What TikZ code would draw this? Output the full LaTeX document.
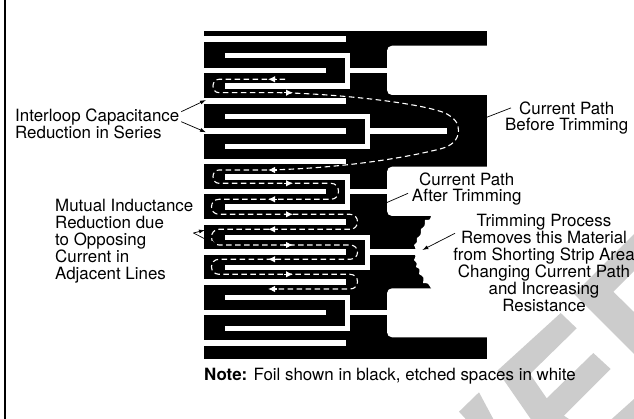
\documentclass[tikz,border=0pt]{standalone}
\usepackage{fontspec}
\setmainfont{TeX Gyre Heros}
\usetikzlibrary{arrows.meta, positioning}
\definecolor{stampgray}{HTML}{CCCCCC}
\tikzset{%
	foil/.style={
		fill=black
	},
	etched/.style={
		fill=white
	},
	stamp/.style={
		fill=stampgray
	},
	calloutlabel/.style={
		inner sep=0pt,
		font=\fontsize{16.9}{16.9}\selectfont
	},
	leader/.style={
		draw=black,
		line width=0.7pt,
		-{Latex[length=6pt,width=4pt]}
	},
	currentpath/.style={
		draw=white,
		line width=1.1pt,
		dash pattern=on 5.5pt off 3.5pt
	},
	currenttip/.style={
		draw=white,
		line width=1.1pt,
		-{Latex[length=7pt,width=6.5pt]}
	},
}
\begin{document}
\begin{tikzpicture}[x=1pt,y=-1pt]
			\useasboundingbox (0,0) rectangle (634,419);
			
			% Draw the stamp behind everything
			\fill[stamp] (634,234) -- (574,294) -- (634,354) -- (634,312) -- (613.3,291.7) -- (634,271) -- cycle;
			\fill[stamp] (560.7,313) -- (576.7,328.3) -- (530,374) -- (546.7,398.3) -- (593.3,353) -- (610.7,369) -- (564,415.7) -- (569,419) -- (530.7,419) -- (497.3,370.7) -- cycle;
			\fill[stamp] (459,411.7) -- (479,392.3) -- (493.3,419) -- (465.7,419) -- cycle;
			\fill[stamp] (611.7,419) -- (634,399) -- (634,419) -- cycle;
			
			% Draw the frame line
			\draw[line width=2pt] (5,0) -- (5,419);
			
			% Draw the foil
			\fill[foil] (204,31) rectangle (487,359);
			
			% Draw the straight etched lines
			\fill[etched] (204,36) rectangle (346,42);
			\fill[etched] (204,98.3) rectangle (346,103.7);
			\fill[etched] (204,158.7) rectangle (346,164);
			\fill[etched] (204,219.3) rectangle (346,225);
			\fill[etched] (204,279.3) rectangle (346,285);
			\fill[etched] (204,340.3) rectangle (346,345.7);
			
			% Draw the shorting strip areas
			\fill[etched, rounded corners=5pt] (500,45.7) -- (387,45.7) -- (387,95) -- (500,95) -- cycle;
			\fill[etched, rounded corners=5pt] (500,166.7) -- (387,166.7) -- (387,216) -- (500,216) -- cycle;
			\fill[etched, rounded corners=5pt] (500,288.3) -- (387,288.3) -- (387,337.3) -- (500,337.3) -- cycle;
			
			% Draw the short loops
			\fill[etched] (225,53.3) rectangle (350,58.3);
			\fill[etched] (225,83.3) rectangle (350,89);
			\fill[etched] (345,53.3) rectangle (350,89);
			\fill[etched] (204,68) rectangle (326,73.3);
			\fill[etched] (350,68) rectangle (387,73.3);
			
			\fill[etched] (225,174) rectangle (350,180);
			\fill[etched] (225,204.3) rectangle (350,210);
			\fill[etched] (345,174) rectangle (350,210);
			\fill[etched] (204,189.3) rectangle (326,194.3);
			\fill[etched] (350,189.3) rectangle (387,194.3);
			
			\fill[etched] (225,295) rectangle (350,300.3);
			\fill[etched] (225,325.7) rectangle (350,331);
			\fill[etched] (345,295) rectangle (350,331);
			\fill[etched] (204,310) rectangle (326,315.3);
			\fill[etched] (350,310) rectangle (387,315.3);
			
			% Draw the long loops
			\fill[etched] (225,114) rectangle (370,119);
			\fill[etched] (225,144) rectangle (370,149.3);
			\fill[etched] (365,114) rectangle (370,149.3);
			\fill[etched] (204,128.3) rectangle (346,134);
			\fill[etched] (370,128.3) rectangle (447,134);
			
			\fill[etched] (225,234.7) rectangle (370,240);
			\fill[etched] (225,265) rectangle (370,270.3);
			\fill[etched] (365,234.7) rectangle (370,270.3);
			\fill[etched] (204,249) rectangle (346,255);
			\fill[etched] (370,249) rectangle (416,255);
			
			% Draw the trimmed edge
			\fill[etched] (433,214) -- (431,216) .. controls (430,220) .. (425,220) .. controls (425,226) .. (421,229)
				.. controls (421,235) .. (417,238) .. controls (417,243) .. (414,245) .. controls (416,249) .. (413,252)
				.. controls (416,256) .. (414,260) .. controls (417,263) .. (416,267) .. controls (420,269) .. (419,274)
				.. controls (424,277) .. (423,283) .. controls (428,283) .. (431,288.3) -- (433,291) -- (500,291) -- (500,214) -- cycle;
			
			% Draw the current path
			\draw[currentpath] (285,79.3) -- (219,79.3) .. controls (211,79.3) and (211,92.7) .. (219,92.7) -- (280,92.7)
				.. controls (340,94) and (420,103) .. (445,113) .. controls (455,118) and (459,124) .. (458.5,131)
				.. controls (458,140) and (452,146) .. (440,149) .. controls (400,159) and (340,168) .. (270,170) -- (219,170)
				.. controls (211,170) and (211,183.3) .. (219,183.3) -- (331,183.3)
				.. controls (341,183.3) and (341,199.3) .. (331,199.3) -- (219,199.3)
				.. controls (209,199.3) and (209,214.3) .. (219,214.3) -- (350,214.3)
				.. controls (360,214.3) and (360,229.3) .. (350,229.3) -- (219,229.3)
				.. controls (209,229.3) and (209,245) .. (219,245) -- (350,245)
				.. controls (360,245) and (360,259.3) .. (350,259.3) -- (219,259.3)
				.. controls (209,259.3) and (209,274.3) .. (219,274.3) -- (350,274.3)
				.. controls (360,274.3) and (360,289) .. (350,289) -- (272,289);
			
			% Draw the current arrows
			\draw[currenttip] (277,79.3) -- (268,79.3);
			\draw[currenttip] (284,92.7) -- (293,92.7);
			\draw[currenttip] (277,170) -- (268,170);
			\draw[currenttip] (284,183.3) -- (293,183.3);
			\draw[currenttip] (277,199.3) -- (268,199.3);
			\draw[currenttip] (284,214.3) -- (293,214.3);
			\draw[currenttip] (277,229.3) -- (268,229.3);
			\draw[currenttip] (284,245) -- (293,245);
			\draw[currenttip] (277,259.3) -- (268,259.3);
			\draw[currenttip] (284,274.3) -- (293,274.3);
			\draw[currenttip] (277,289) -- (268,289);
			
			% Draw the labels
			\node[calloutlabel, anchor=west, align=left] (interloop) at (15,123.5) {Interloop Capacitance\\Reduction in Series};
			\node[calloutlabel, anchor=west, align=left] (mutual) at (55,241) {Mutual Inductance\\Reduction due\\to Opposing\\Current in\\Adjacent Lines};
			\node[calloutlabel, align=center] (before) at (566.7,118) {Current Path\\Before Trimming};
			\node[calloutlabel, align=center] (after) at (466.7,189) {Current Path\\After Trimming};
			\node[calloutlabel, align=center] (trimming) at (544,263) {Trimming Process\\Removes this Material\\from Shorting Strip Area\\Changing Current Path\\and Increasing\\Resistance};
			\node[calloutlabel, anchor=west] (note) at (204,376) {\textbf{Note:} Foil shown in black, etched spaces in white};
			
			% Arrows from labels to the foil
			\coordinate (interlooptop) at (206,100);
			\coordinate (interloopbottom) at (206,132.3);
			\coordinate (mutualtop) at (205,230);
			\coordinate (mutualbottom) at (216.7,245);
			\coordinate (beforetip) at (458.3,128.3);
			\coordinate (aftertip) at (358.3,215);
			\coordinate (trimmingtip) at (422.3,250);
			
			\draw[leader] ([xshift=1.7pt,yshift=11.8pt]interloop.east) -- (interlooptop);
			\draw[leader] ([xshift=1.7pt,yshift=1.8pt]interloop.east) -- (interloopbottom);
			\draw[leader] ([yshift=8pt]mutual.east) -- (mutualtop);
			\draw[leader] ([yshift=8pt]mutual.east) -- (mutualbottom);
			\draw[leader] ([xshift=6pt,yshift=-6.7pt]before.north west) -- (beforetip);
			\draw[leader] ([xshift=-3.7pt,yshift=-4.3pt]after.west) -- (aftertip);
			\draw[leader] ([xshift=2pt,yshift=-19pt]trimming.north west) -- (trimmingtip);
			
		\end{tikzpicture}
\end{document}
